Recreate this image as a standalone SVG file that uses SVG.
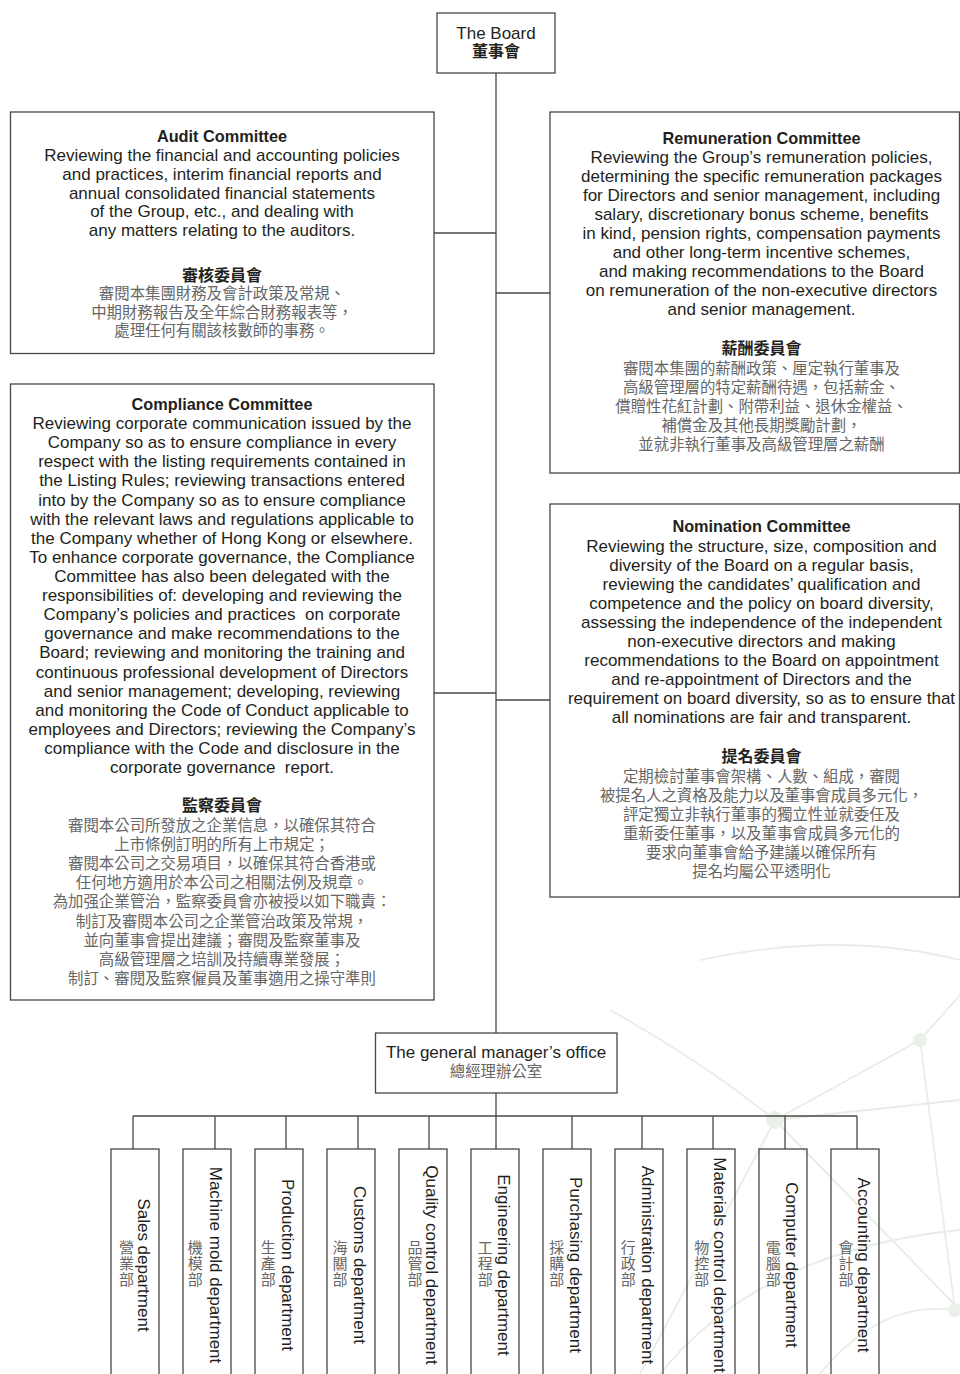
<svg xmlns="http://www.w3.org/2000/svg" width="960" height="1374" viewBox="0 0 960 1374">
<style>
.bg{fill:#ffffff}
.deco{fill:none;stroke:#e6eee6;stroke-width:1.8}
.decon{fill:#eaf0ea}
.box{fill:none;stroke:#4a4646;stroke-width:1.3}
.ln{fill:none;stroke:#4a4646;stroke-width:1.3}
.en{font-family:"Liberation Sans",Arial,sans-serif;font-size:17px;fill:#231f20;text-anchor:middle}
.ent{font-family:"Liberation Sans",Arial,sans-serif;font-size:16.3px;font-weight:bold;fill:#231f20;text-anchor:middle}
.zh{font-family:"Liberation Sans","Noto Sans CJK TC","Noto Sans CJK SC",sans-serif;font-size:15.4px;fill:#666666;text-anchor:middle}
.zht{font-family:"Liberation Sans","Noto Sans CJK TC","Noto Sans CJK SC",sans-serif;font-size:16px;font-weight:bold;fill:#231f20;text-anchor:middle}
.dz{font-family:"Noto Sans CJK TC","Noto Sans CJK SC",sans-serif;font-size:15px;fill:#666666;text-anchor:middle;writing-mode:vertical-rl;letter-spacing:1px}
</style>
<rect class="bg" x="0" y="0" width="960" height="1374"/>
<g id="decoration">
<path class="deco" d="M775 1120 L920 1040 L960 995"/>
<path class="deco" d="M775 1120 L960 1310"/>
<path class="deco" d="M920 1040 L955 1310"/>
<path class="deco" d="M775 1120 L640 1374"/>
<path class="deco" d="M775 1120 L960 1100"/>
<path class="deco" d="M610 1010 Q700 1060 775 1120"/>
<path class="deco" d="M700 960 Q840 930 960 960"/>
<path class="deco" d="M660 1374 Q760 1250 960 1230"/>
<path class="deco" d="M820 1374 Q880 1300 955 1310"/>
<circle class="decon" cx="775" cy="1120" r="9"/>
<circle class="decon" cx="920" cy="1040" r="7"/>
<circle class="decon" cx="955" cy="1310" r="7"/>
</g>
<g id="connectors">
<path class="ln" d="M496 73 V1033"/>
<path class="ln" d="M434 233 H496"/>
<path class="ln" d="M496 293 H550"/>
<path class="ln" d="M434 693 H496"/>
<path class="ln" d="M496 700 H550"/>
<path class="ln" d="M496 1093 V1116"/>
<path class="ln" d="M133 1116 H857"/>
<path class="ln" d="M133 1116 V1149 M215 1116 V1149 M286 1116 V1149 M358 1116 V1149 M429 1116 V1149 M496 1116 V1149 M572 1116 V1149 M642 1116 V1149 M713 1116 V1149 M785 1116 V1149 M857 1116 V1149"/>
</g>
<g id="board">
<rect class="box" x="437" y="13" width="118" height="60"/>
<text class="en" x="496" y="39">The Board</text>
<text class="zht" x="496" y="57">董事會</text>
</g>
<g id="audit">
<rect class="box" x="10.5" y="112" width="423.5" height="241.5"/>
<text class="ent" x="222" y="141.5">Audit Committee</text>
<text class="en" x="222" y="161">Reviewing the financial and accounting policies</text>
<text class="en" x="222" y="179.75">and practices, interim financial reports and</text>
<text class="en" x="222" y="198.5">annual consolidated financial statements</text>
<text class="en" x="222" y="217.25">of the Group, etc., and dealing with</text>
<text class="en" x="222" y="236">any matters relating to the auditors.</text>
<text class="zht" x="222" y="280.5">審核委員會</text>
<text class="zh" x="222" y="299">審閱本集團財務及會計政策及常規、</text>
<text class="zh" x="222" y="317.5">中期財務報告及全年綜合財務報表等，</text>
<text class="zh" x="222" y="336">處理任何有關該核數師的事務。</text>
</g>
<g id="remuneration">
<rect class="box" x="550" y="112" width="409.5" height="361"/>
<text class="ent" x="761.5" y="144">Remuneration Committee</text>
<text class="en" x="761.5" y="163">Reviewing the Group’s remuneration policies,</text>
<text class="en" x="761.5" y="182">determining the specific remuneration packages</text>
<text class="en" x="761.5" y="201">for Directors and senior management, including</text>
<text class="en" x="761.5" y="220">salary, discretionary bonus scheme, benefits</text>
<text class="en" x="761.5" y="239">in kind, pension rights, compensation payments</text>
<text class="en" x="761.5" y="258">and other long-term incentive schemes,</text>
<text class="en" x="761.5" y="277">and making recommendations to the Board</text>
<text class="en" x="761.5" y="296">on remuneration of the non-executive directors</text>
<text class="en" x="761.5" y="315">and senior management.</text>
<text class="zht" x="761.5" y="354">薪酬委員會</text>
<text class="zh" x="761.5" y="373.5">審閱本集團的薪酬政策、厘定執行董事及</text>
<text class="zh" x="761.5" y="392.5">高級管理層的特定薪酬待遇，包括薪金、</text>
<text class="zh" x="761.5" y="411.5">償贈性花紅計劃、附帶利益、退休金權益、</text>
<text class="zh" x="761.5" y="430.5">補償金及其他長期獎勵計劃，</text>
<text class="zh" x="761.5" y="449.5">並就非執行董事及高級管理層之薪酬</text>
</g>
<g id="compliance">
<rect class="box" x="10.5" y="384" width="423.5" height="616"/>
<text class="ent" x="222" y="409.5">Compliance Committee</text>
<text class="en" x="222" y="429">Reviewing corporate communication issued by the</text>
<text class="en" x="222" y="448.1">Company so as to ensure compliance in every</text>
<text class="en" x="222" y="467.2">respect with the listing requirements contained in</text>
<text class="en" x="222" y="486.4">the Listing Rules; reviewing transactions entered</text>
<text class="en" x="222" y="505.5">into by the Company so as to ensure compliance</text>
<text class="en" x="222" y="524.6">with the relevant laws and regulations applicable to</text>
<text class="en" x="222" y="543.7">the Company whether of Hong Kong or elsewhere.</text>
<text class="en" x="222" y="562.8">To enhance corporate governance, the Compliance</text>
<text class="en" x="222" y="582">Committee has also been delegated with the</text>
<text class="en" x="222" y="601.1">responsibilities of: developing and reviewing the</text>
<text class="en" x="222" y="620.2" xml:space="preserve">Company’s policies and practices  on corporate</text>
<text class="en" x="222" y="639.3">governance and make recommendations to the</text>
<text class="en" x="222" y="658.4">Board; reviewing and monitoring the training and</text>
<text class="en" x="222" y="677.6">continuous professional development of Directors</text>
<text class="en" x="222" y="696.7">and senior management; developing, reviewing</text>
<text class="en" x="222" y="715.8">and monitoring the Code of Conduct applicable to</text>
<text class="en" x="222" y="734.9">employees and Directors; reviewing the Company’s</text>
<text class="en" x="222" y="754">compliance with the Code and disclosure in the</text>
<text class="en" x="222" y="773.2" xml:space="preserve">corporate governance  report.</text>
<text class="zht" x="222" y="810.5">監察委員會</text>
<text class="zh" x="222" y="830.5">審閱本公司所發放之企業信息，以確保其符合</text>
<text class="zh" x="222" y="849.7">上市條例訂明的所有上市規定；</text>
<text class="zh" x="222" y="868.9">審閱本公司之交易項目，以確保其符合香港或</text>
<text class="zh" x="222" y="888.1">任何地方適用於本公司之相關法例及規章。</text>
<text class="zh" x="222" y="907.3">為加强企業管治，監察委員會亦被授以如下職責：</text>
<text class="zh" x="222" y="926.5">制訂及審閱本公司之企業管治政策及常規，</text>
<text class="zh" x="222" y="945.7">並向董事會提出建議；審閱及監察董事及</text>
<text class="zh" x="222" y="964.9">高級管理層之培訓及持續專業發展；</text>
<text class="zh" x="222" y="984.1">制訂、審閱及監察僱員及董事適用之操守準則</text>
</g>
<g id="nomination">
<rect class="box" x="550" y="504" width="409.5" height="393"/>
<text class="ent" x="761.5" y="532">Nomination Committee</text>
<text class="en" x="761.5" y="551.5">Reviewing the structure, size, composition and</text>
<text class="en" x="761.5" y="570.6">diversity of the Board on a regular basis,</text>
<text class="en" x="761.5" y="589.7">reviewing the candidates’ qualification and</text>
<text class="en" x="761.5" y="608.8">competence and the policy on board diversity,</text>
<text class="en" x="761.5" y="627.9">assessing the independence of the independent</text>
<text class="en" x="761.5" y="647">non-executive directors and making</text>
<text class="en" x="761.5" y="666.1">recommendations to the Board on appointment</text>
<text class="en" x="761.5" y="685.2">and re-appointment of Directors and the</text>
<text class="en" x="761.5" y="704.3">requirement on board diversity, so as to ensure that</text>
<text class="en" x="761.5" y="723.4">all nominations are fair and transparent.</text>
<text class="zht" x="761.5" y="762">提名委員會</text>
<text class="zh" x="761.5" y="781.5">定期檢討董事會架構、人數、組成，審閱</text>
<text class="zh" x="761.5" y="800.6">被提名人之資格及能力以及董事會成員多元化，</text>
<text class="zh" x="761.5" y="819.7">評定獨立非執行董事的獨立性並就委任及</text>
<text class="zh" x="761.5" y="838.8">重新委任董事，以及董事會成員多元化的</text>
<text class="zh" x="761.5" y="857.9">要求向董事會給予建議以確保所有</text>
<text class="zh" x="761.5" y="877">提名均屬公平透明化</text>
</g>
<g id="gm-office">
<rect class="box" x="375.5" y="1033" width="241.5" height="60"/>
<text class="en" x="496" y="1057.5">The general manager’s office</text>
<text class="zh" x="496" y="1077">總經理辦公室</text>
</g>
<g id="dept-sales">
<rect class="box" x="111" y="1149" width="48" height="240"/>
<text class="en" transform="translate(138.3,1265) rotate(90)">Sales department</text>
<text class="dz" x="126.5" y="1264">營業部</text>
</g>
<g id="dept-machine-mold">
<rect class="box" x="183" y="1149" width="48" height="240"/>
<text class="en" transform="translate(210.3,1265) rotate(90)">Machine mold department</text>
<text class="dz" x="195.3" y="1264">機模部</text>
</g>
<g id="dept-production">
<rect class="box" x="255" y="1149" width="48" height="240"/>
<text class="en" transform="translate(282.3,1265) rotate(90)">Production department</text>
<text class="dz" x="268.3" y="1264">生產部</text>
</g>
<g id="dept-customs">
<rect class="box" x="327" y="1149" width="48" height="240"/>
<text class="en" transform="translate(354.3,1265) rotate(90)">Customs department</text>
<text class="dz" x="340" y="1264">海關部</text>
</g>
<g id="dept-quality-control">
<rect class="box" x="399" y="1149" width="48" height="240"/>
<text class="en" transform="translate(426.3,1265) rotate(90)">Quality control department</text>
<text class="dz" x="415" y="1264">品管部</text>
</g>
<g id="dept-engineering">
<rect class="box" x="471" y="1149" width="48" height="240"/>
<text class="en" transform="translate(498.3,1265) rotate(90)">Engineering department</text>
<text class="dz" x="485.3" y="1264">工程部</text>
</g>
<g id="dept-purchasing">
<rect class="box" x="543" y="1149" width="48" height="240"/>
<text class="en" transform="translate(570.3,1265) rotate(90)">Purchasing department</text>
<text class="dz" x="556.7" y="1264">採購部</text>
</g>
<g id="dept-administration">
<rect class="box" x="615" y="1149" width="48" height="240"/>
<text class="en" transform="translate(642.3,1265) rotate(90)">Administration department</text>
<text class="dz" x="628.3" y="1264">行政部</text>
</g>
<g id="dept-materials-control">
<rect class="box" x="687" y="1149" width="48" height="240"/>
<text class="en" transform="translate(714.3,1265) rotate(90)">Materials control department</text>
<text class="dz" x="701.7" y="1264">物控部</text>
</g>
<g id="dept-computer">
<rect class="box" x="759" y="1149" width="48" height="240"/>
<text class="en" transform="translate(786.3,1265) rotate(90)">Computer department</text>
<text class="dz" x="773.3" y="1264">電腦部</text>
</g>
<g id="dept-accounting">
<rect class="box" x="831" y="1149" width="48" height="240"/>
<text class="en" transform="translate(858.3,1265) rotate(90)">Accounting department</text>
<text class="dz" x="846" y="1264">會計部</text>
</g>
</svg>
